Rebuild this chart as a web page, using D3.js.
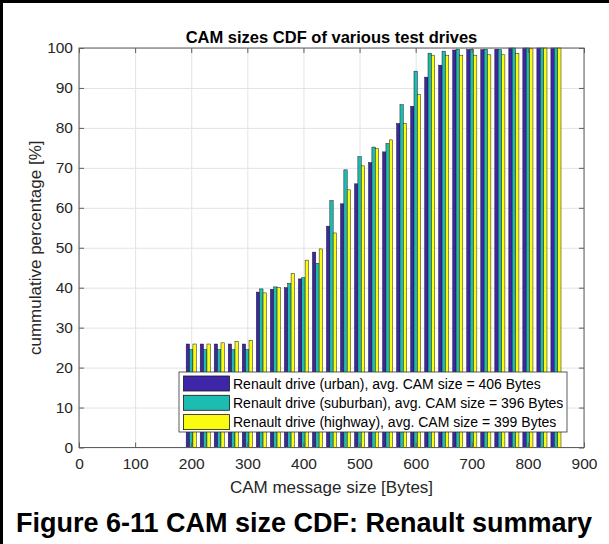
<!DOCTYPE html>
<html>
<head>
<meta charset="utf-8">
<script src="https://cdn.jsdelivr.net/npm/d3@7"></script>
<style>
  body { margin: 0; background: #fff; }
  svg { display: block; font-family: "Liberation Sans", Arial, sans-serif; }
</style>
</head>
<body>
<svg id="chart" width="609" height="544"></svg>
<script>
// ---- data ----
const sizes = [200,225,250,275,300,325,350,375,400,425,450,475,500,525,550,575,600,625,650,675,700,725,750,775,800,825,850];
const urban    = [25.9,25.9,25.9,25.9,25.9,38.9,39.6,40.0,42.2,48.9,55.4,61.0,66.0,71.3,74.0,81.1,85.4,92.7,95.7,99.5,99.6,99.6,99.7,100,100,100,100];
const suburban = [24.5,24.5,24.5,24.5,24.5,39.7,40.2,41.1,42.5,46.1,61.8,69.5,72.8,75.2,76.1,85.8,94.2,98.7,99.2,99.7,99.7,99.7,99.6,100,100,100,100];
const highway  = [25.9,25.9,26.2,26.5,26.8,38.7,40.0,43.5,46.9,49.7,53.7,64.5,70.5,74.8,77.0,81.1,88.3,98.2,98.2,98.2,98.2,98.3,98.3,98.6,99.8,100,100];
const seriesNames = [
  "Renault drive (urban), avg. CAM size = 406 Bytes",
  "Renault drive (suburban), avg. CAM size = 396 Bytes",
  "Renault drive (highway), avg. CAM size = 399 Bytes"
];
const seriesColors = ["#3E26A8", "#1CBDB0", "#F9FB10"];
const xTicks = [0,100,200,300,400,500,600,700,800,900];
const yTicks = [0,10,20,30,40,50,60,70,80,90,100];
const titleText = "CAM sizes CDF of various test drives";
const xLabel = "CAM message size [Bytes]";
const yLabel = "cummulative percentage [%]";
const captionText = "Figure 6-11 CAM size CDF: Renault summary";

// ---- layout ----
const svg = d3.select("#chart");
const L = 79, R = 584, T = 48, B = 447.5;
const x = d3.scaleLinear().domain([0, 900]).range([L, R]);
const y = d3.scaleLinear().domain([0, 100]).range([B, T]);
const axisColor = "#5f5f5f", textColor = "#262626";

// frame lines of the page
svg.append("rect").attr("x", 0).attr("y", 0).attr("width", 609).attr("height", 3).attr("fill", "#000");
svg.append("rect").attr("x", 0).attr("y", 0).attr("width", 3).attr("height", 544).attr("fill", "#000");

// grid
const gx = svg.append("g").attr("transform", `translate(0,${B})`)
  .call(d3.axisBottom(x).tickValues(xTicks).tickSize(-(B - T)).tickFormat(""));
gx.select(".domain").remove();
gx.selectAll("line").attr("stroke", "#e3e3e3");
const gy = svg.append("g").attr("transform", `translate(${L},0)`)
  .call(d3.axisLeft(y).tickValues(yTicks).tickSize(-(R - L)).tickFormat(""));
gy.select(".domain").remove();
gy.selectAll("line").attr("stroke", "#e3e3e3");

// bars
const series = [urban, suburban, highway];
const bw = 6; // bar width in data units
const offsets = [-bw, 0, bw];
series.forEach((vals, si) => {
  svg.append("g").selectAll("rect").data(vals).join("rect")
    .attr("x", (d, i) => x(sizes[i] + offsets[si] - bw / 2))
    .attr("width", (d, i) => x(sizes[i] + offsets[si] + bw / 2) - x(sizes[i] + offsets[si] - bw / 2))
    .attr("y", d => y(d))
    .attr("height", d => y(0) - y(d))
    .attr("fill", seriesColors[si])
    .attr("stroke", "#1a1a1a")
    .attr("stroke-width", 0.5);
});

// axes box
svg.append("rect").attr("x", L).attr("y", T).attr("width", R - L).attr("height", B - T)
  .attr("fill", "none").attr("stroke", axisColor).attr("stroke-width", 1);

// ticks (inward) and labels
const ax = svg.append("g").attr("transform", `translate(0,${B})`)
  .call(d3.axisBottom(x).tickValues(xTicks).tickSize(-5).tickPadding(10));
const ay = svg.append("g").attr("transform", `translate(${L},0)`)
  .call(d3.axisLeft(y).tickValues(yTicks).tickSize(-5).tickPadding(6));
const at = svg.append("g").attr("transform", `translate(0,${T})`)
  .call(d3.axisTop(x).tickValues(xTicks).tickSize(-5).tickFormat(""));
const ar = svg.append("g").attr("transform", `translate(${R},0)`)
  .call(d3.axisRight(y).tickValues(yTicks).tickSize(-5).tickFormat(""));
[ax, ay, at, ar].forEach(g => {
  g.select(".domain").remove();
  g.selectAll("line").attr("stroke", axisColor);
  g.selectAll("text").attr("fill", textColor).style("font-size", "15.5px")
    .style("font-family", '"Liberation Sans", Arial, sans-serif');
});

// title and labels
svg.append("text").attr("x", (L + R) / 2).attr("y", 43).attr("text-anchor", "middle")
  .style("font-size", "16.5px").style("font-weight", "bold").attr("fill", "#000").text(titleText);
svg.append("text").attr("x", (L + R) / 2).attr("y", 493).attr("text-anchor", "middle")
  .style("font-size", "17px").attr("fill", textColor).text(xLabel);
svg.append("text").attr("transform", `translate(41,${(T + B) / 2}) rotate(-90)`).attr("text-anchor", "middle")
  .style("font-size", "17px").attr("fill", textColor).text(yLabel);

// legend
const lg = svg.append("g");
lg.append("rect").attr("x", 179).attr("y", 372).attr("width", 388).attr("height", 60)
  .attr("fill", "#fff").attr("stroke", "#333").attr("stroke-width", 0.8);
seriesNames.forEach((name, i) => {
  const yy = 376 + i * 19.3;
  lg.append("rect").attr("x", 183.5).attr("y", yy).attr("width", 46).attr("height", 15)
    .attr("fill", seriesColors[i]).attr("stroke", "#1a1a1a").attr("stroke-width", 0.8);
  lg.append("text").attr("x", 233).attr("y", yy + 12.5).style("font-size", "14px")
    .attr("fill", "#000").text(name);
});

// caption
svg.append("text").attr("x", 304).attr("y", 532).attr("text-anchor", "middle")
  .style("font-size", "27px").style("font-weight", "bold").attr("fill", "#000").text(captionText);
</script>
</body>
</html>
